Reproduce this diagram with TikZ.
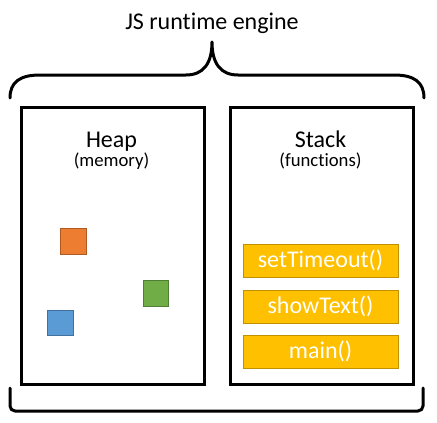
\documentclass[tikz,border=0pt]{standalone}
\usepackage{fontspec}
\setmainfont{Carlito}[Ligatures=NoCommon]
\definecolor{stackfill}{HTML}{FFC000}
\definecolor{stackedge}{HTML}{BF9000}
\definecolor{objorange}{HTML}{ED7D31}
\definecolor{objorangeedge}{HTML}{AE5A21}
\definecolor{objgreen}{HTML}{70AD47}
\definecolor{objgreenedge}{HTML}{507E32}
\definecolor{objblue}{HTML}{5B9BD5}
\definecolor{objblueedge}{HTML}{41719C}
\tikzset{
  area/.style={draw=black, line width=2.6pt, fill=white},
  brace/.style={draw=black, line width=3pt, line cap=round, line join=round},
  bigtext/.style={font=\fontsize{24}{28}\selectfont, anchor=base, inner sep=0pt},
  smalltext/.style={font=\fontsize{18.7}{22}\selectfont, anchor=base, inner sep=0pt},
  frame/.style={draw=stackedge, line width=1pt, fill=stackfill, minimum width=155pt,
    minimum height=33pt, inner sep=0pt, text=white, font=\fontsize{24}{28}\selectfont},
  obj/.style={line width=1.2pt, minimum width=25.5pt, minimum height=25.5pt, inner sep=0pt},
}
\begin{document}
\begin{tikzpicture}[x=1pt, y=-1pt]
  \useasboundingbox (0,0) rectangle (437,423);

  % engine label and braces
  \node[bigtext] (title) at (212,29) {JS runtime engine};
  \coordinate (tip) at (212,42);
  \coordinate (bl) at (10,98);
  \coordinate (br) at (424,98);
  \path[brace] (bl) .. controls (10,82) and (20,75) .. (40,75) -- (186,75)
    .. controls (203,75) and (212,64) .. (tip)
    .. controls (212,64) and (221,75) .. (238,75) -- (394,75)
    .. controls (414,75) and (424,82) .. (br);
  \coordinate (ul) at (10,388);
  \coordinate (ur) at (423,388);
  \path[brace, rounded corners=5pt] (ul) -- (10,411) -- (423,411) -- (ur);

  % heap
  \node[area, minimum width=183pt, minimum height=277pt, anchor=north west] (heap) at (20,106) {};
  \node[bigtext] (heaplabel) at (111.5,147) {Heap};
  \node[smalltext] (heapsub) at (111.5,166) {(memory)};
  \node[obj, draw=objorangeedge, fill=objorange] (o1) at (73.5,241.5) {};
  \node[obj, draw=objgreenedge, fill=objgreen] (o2) at (156,293.5) {};
  \node[obj, draw=objblueedge, fill=objblue] (o3) at (60.5,323) {};

  % stack
  \node[area, minimum width=183pt, minimum height=277pt, anchor=north west] (stack) at (229,106) {};
  \node[bigtext] (stacklabel) at (320.5,147) {Stack};
  \node[smalltext] (stacksub) at (320.5,166) {(functions)};
  \node[frame] (f1) at (320.5,260.5) {setTimeout()};
  \node[frame] (f2) at (320.5,306.5) {showText()};
  \node[frame] (f3) at (320.5,351.5) {main()};
\end{tikzpicture}
\end{document}
